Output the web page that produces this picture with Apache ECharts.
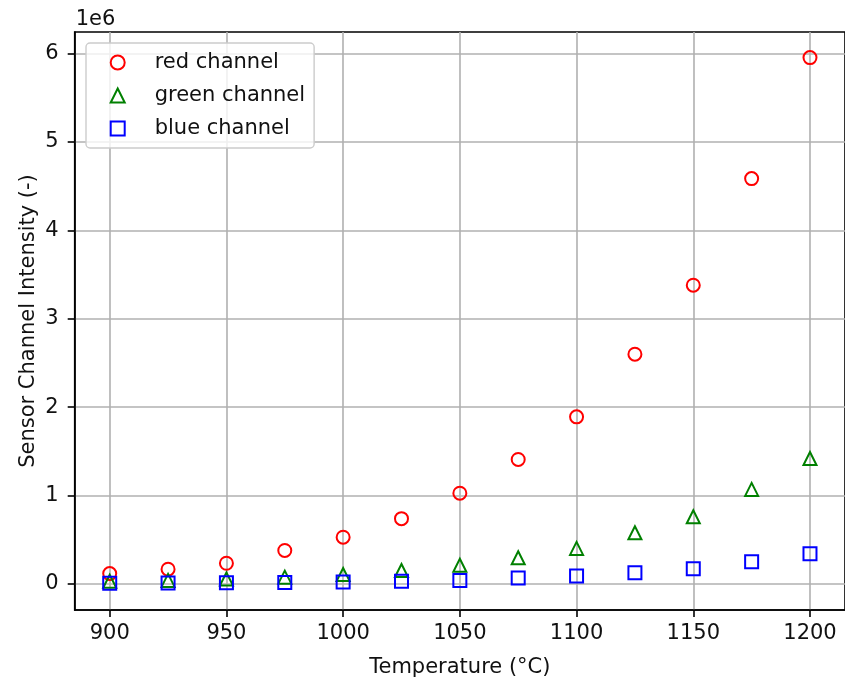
<!DOCTYPE html>
<html>
<head>
<meta charset="utf-8">
<script src="https://cdn.jsdelivr.net/npm/echarts@6/dist/echarts.min.js"></script>
<style>
  html, body { margin: 0; padding: 0; background: #ffffff; }
  #chart { width: 845px; height: 684px; }
</style>
</head>
<body>
<div id="chart"></div>
<script>
// Furnace temperatures (°C)
const temperatures = [900, 925, 950, 975, 1000, 1025, 1050, 1075, 1100, 1125, 1150, 1175, 1200];

// Channel intensities, in units of 1e6
const redChannel   = [0.115, 0.165, 0.232, 0.377, 0.527, 0.737, 1.025, 1.407, 1.889, 2.598, 3.379, 4.586, 5.955];
const greenChannel = [0.028, 0.038, 0.054, 0.075, 0.104, 0.150, 0.210, 0.294, 0.400, 0.577, 0.758, 1.068, 1.418];
const blueChannel  = [0.006, 0.008, 0.011, 0.015, 0.021, 0.028, 0.038, 0.064, 0.087, 0.124, 0.170, 0.249, 0.339];

// Tick positions
const xTicks = [900, 950, 1000, 1050, 1100, 1150, 1200];
const yTicks = [0, 1, 2, 3, 4, 5, 6];

const SCALE = 1e6;
const FONT = 'DejaVu Sans';
const FS = 21;

const toPoints = (vals) => temperatures.map((t, i) => [t, vals[i] * SCALE]);

const gridLine = { show: true, lineStyle: { color: '#b0b0b0', width: 1.6 } };

function markerSeries(name, symbol, size, color, vals) {
  return {
    name: name,
    type: 'scatter',
    symbol: symbol,
    symbolSize: size,
    data: toPoints(vals),
    itemStyle: { color: 'rgba(0,0,0,0)', borderColor: color, borderWidth: 2, opacity: 1 },
    emphasis: { disabled: true },
    clip: false
  };
}

const chart = echarts.init(document.getElementById('chart'), null, { renderer: 'canvas' });

chart.setOption({
  animation: false,
  backgroundColor: '#ffffff',
  textStyle: { fontFamily: FONT },
  grid: {
    left: 74.7, top: 32, right: -4.5, bottom: 74,
    show: true, borderColor: '#000000', borderWidth: 1.6, backgroundColor: '#ffffff'
  },
  legend: {
    orient: 'vertical',
    left: 86, top: 43,
    padding: [9, 9, 9, 23.7],
    itemWidth: 14, itemHeight: 14,
    itemGap: 12,
    backgroundColor: 'rgba(255,255,255,0.8)',
    borderColor: '#cccccc', borderWidth: 1.4, borderRadius: 4,
    textStyle: { fontFamily: FONT, fontSize: FS, color: '#111', lineHeight: 21, padding: [0, 0, 0, 25] },
    selectedMode: false,
    data: ['red channel', 'green channel', 'blue channel']
  },
  xAxis: {
    type: 'value',
    min: 885, max: 1215,
    name: 'Temperature (°C)',
    nameLocation: 'middle',
    nameGap: 47,
    nameTextStyle: { fontFamily: FONT, fontSize: FS, color: '#111' },
    axisLine: { show: true, onZero: false, lineStyle: { color: '#000', width: 1.6 } },
    axisTick: { show: true, length: 7, inside: false, customValues: xTicks, lineStyle: { color: '#000', width: 1.6 } },
    axisLabel: {
      customValues: xTicks, margin: 13, fontFamily: FONT, fontSize: FS, color: '#111',
      formatter: (v) => String(v)
    },
    splitLine: gridLine
  },
  yAxis: {
    type: 'value',
    min: -0.297 * SCALE, max: 6.245 * SCALE,
    name: '1e6',
    nameLocation: 'end',
    nameGap: 2,
    nameTextStyle: { fontFamily: FONT, fontSize: FS, color: '#111', align: 'left', padding: [0, 0, 0, 1] },
    axisLine: { show: true, onZero: false, lineStyle: { color: '#000', width: 1.6 } },
    axisTick: { show: true, length: 7, inside: false, customValues: yTicks.map(v => v * SCALE), lineStyle: { color: '#000', width: 1.6 } },
    axisLabel: {
      customValues: yTicks.map(v => v * SCALE),
      margin: 16, fontFamily: FONT, fontSize: FS, color: '#111',
      formatter: (v) => String(Math.round(v / SCALE))
    },
    splitLine: gridLine
  },
  // Vertical axis title, placed beside the tick labels
  graphic: [{
    type: 'text',
    x: 29, y: 321,
    rotation: Math.PI / 2,
    silent: true,
    style: {
      text: 'Sensor Channel Intensity (-)',
      font: FS + 'px ' + FONT,
      fill: '#111',
      align: 'center',
      verticalAlign: 'middle'
    }
  }],
  series: [
    markerSeries('red channel', 'circle', 13, '#ff0000', redChannel),
    markerSeries('green channel', 'triangle', 13, '#008000', greenChannel),
    markerSeries('blue channel', 'rect', 13, '#0000ff', blueChannel)
  ]
});
</script>
</body>
</html>
